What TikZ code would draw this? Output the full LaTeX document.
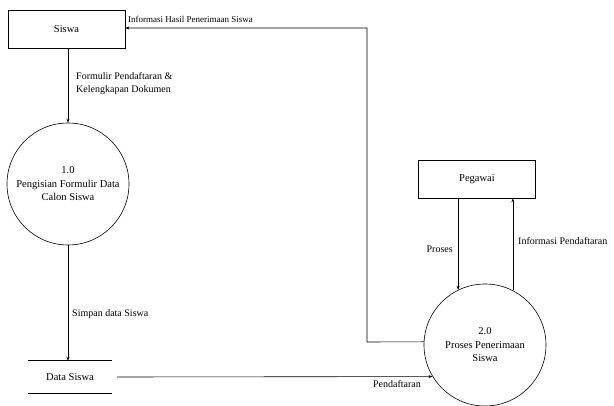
\documentclass[tikz,border=0pt]{standalone}
\usepackage{fontspec}
\setmainfont{Liberation Serif}
\usetikzlibrary{arrows.meta}
\begin{document}
\begin{tikzpicture}[x=1pt,y=-1pt,
  ent/.style={draw, line width=0.8pt, minimum width=117pt, minimum height=38pt, inner sep=0pt, font=\fontsize{10.5}{13}\selectfont},
  proc/.style={draw, circle, line width=0.6pt, minimum size=122pt, inner sep=0pt, align=center, font=\fontsize{10.5}{13.5}\selectfont},
  flow/.style={line width=0.6pt, -{Stealth[length=4pt,width=3pt]}},
  lbl/.style={font=\fontsize{10}{13}\selectfont, inner sep=1pt, align=left}]
\useasboundingbox (0,0) rectangle (614,406);
\node[ent] (siswa) at (66.5,29) {Siswa};
\node[proc] (p1) at (68,184) {1.0\\Pengisian Formulir Data\\Calon Siswa};
\node[ent] (peg) at (477,179) {Pegawai};
\node[proc] (p2) at (485,345) {2.0\\Proses Penerimaan\\Siswa};
\node[minimum width=84pt, minimum height=32pt, inner sep=0pt, font=\fontsize{10.5}{13}\selectfont] (ds) at (70,377) {Data Siswa};
\draw[line width=0.6pt] (ds.north west) -- (ds.north east);
\draw[line width=0.6pt] (ds.south west) -- (ds.south east);
% flows
\draw[flow] (siswa.south -| p1.north) -- (p1.north);
\node[lbl, anchor=west] at (75,84) {Formulir Pendaftaran \&\\Kelengkapan Dokumen};
\draw[flow] (p1.south) -- (ds.north -| p1.south);
\node[lbl, anchor=west] at (71,314) {Simpan data Siswa};
\coordinate (dse) at (117,377);
\draw[flow] (dse) -- (p2.211.6);
\node[lbl] at (397,384) {Pendaftaran};
\coordinate (c1) at (367,342);
\coordinate (c2) at (367,28);
\draw[flow] (p2.177) -- (c1) -- (c2) -- (siswa.east |- c2);
\node[lbl, anchor=south west, font=\fontsize{9}{11}\selectfont] at (127,24) {Informasi Hasil Penerimaan Siswa};
\draw[flow] (p2.116.3 |- peg.south) -- (p2.116.3);
\node[lbl, anchor=east] at (454,249) {Proses};
\draw[flow] (p2.63.7) -- (p2.63.7 |- peg.south);
\node[lbl, anchor=west] at (517,241) {Informasi Pendaftaran};
\end{tikzpicture}
\end{document}
